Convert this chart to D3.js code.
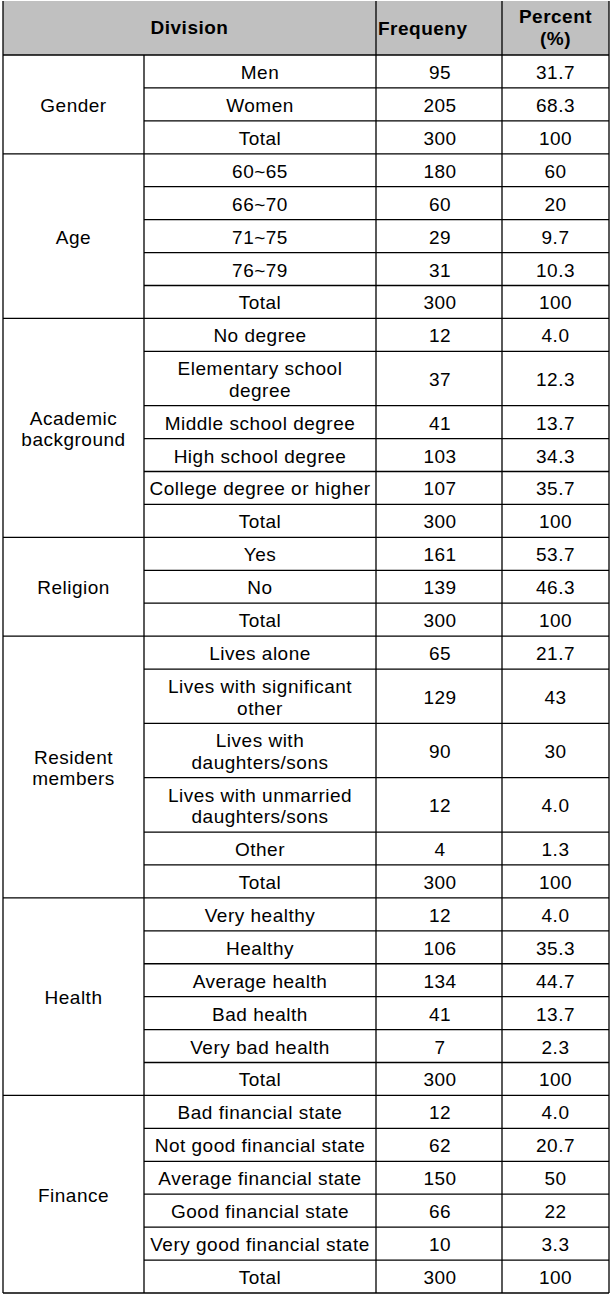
<!DOCTYPE html>
<html>
<head>
<meta charset="utf-8">
<script src="https://cdn.jsdelivr.net/npm/d3@7"></script>
<style>
  body { margin: 0; background: #fff; }
  text { font-family: "Liberation Sans", Arial, sans-serif; font-size: 19px; letter-spacing: 0.5px; fill: #000; }
</style>
</head>
<body>
<div id="table"></div>
<script>
// table content
const groups = ["Gender", "Age", "Academic\nbackground", "Religion", "Resident\nmembers", "Health", "Finance"];
const groupOf = [0, 0, 0, 1, 1, 1, 1, 1, 2, 2, 2, 2, 2, 2, 3, 3, 3, 4, 4, 4, 4, 4, 4, 5, 5, 5, 5, 5, 5, 6, 6, 6, 6, 6, 6];
const categories = [
  "Men", "Women", "Total",
  "60~65", "66~70", "71~75", "76~79", "Total",
  "No degree", "Elementary school\ndegree", "Middle school degree", "High school degree", "College degree or higher", "Total",
  "Yes", "No", "Total",
  "Lives alone", "Lives with significant\nother", "Lives with\ndaughters/sons", "Lives with unmarried\ndaughters/sons", "Other", "Total",
  "Very healthy", "Healthy", "Average health", "Bad health", "Very bad health", "Total",
  "Bad financial state", "Not good financial state", "Average financial state", "Good financial state", "Very good financial state", "Total"
];
const frequency = [
  95, 205, 300,
  180, 60, 29, 31, 300,
  12, 37, 41, 103, 107, 300,
  161, 139, 300,
  65, 129, 90, 12, 4, 300,
  12, 106, 134, 41, 7, 300,
  12, 62, 150, 66, 10, 300
];
const percent = [
  "31.7", "68.3", "100",
  "60", "20", "9.7", "10.3", "100",
  "4.0", "12.3", "13.7", "34.3", "35.7", "100",
  "53.7", "46.3", "100",
  "21.7", "43", "30", "4.0", "1.3", "100",
  "4.0", "35.3", "44.7", "13.7", "2.3", "100",
  "4.0", "20.7", "50", "22", "3.3", "100"
];

const width = 612, height = 1296;
const colEdges = [3, 144, 376, 502, 609];
const headTop = 1, headBottom = 55, tableBottom = 1293;
const lineHeight = 21.7, textOffset = 7.5;

// row heights in units: two-line rows are taller
const rows = categories.map((c, i) => ({
  label: c,
  group: groupOf[i],
  freq: frequency[i],
  pct: percent[i],
  units: c.includes("\n") ? 1.65 : 1
}));
let acc = 0;
rows.forEach(r => { r.u0 = acc; acc += r.units; r.u1 = acc; });

const y = d3.scaleLinear().domain([0, acc]).range([headBottom, tableBottom]);

const groupRows = groups.map((g, gi) => {
  const rs = rows.filter(r => r.group === gi);
  return { label: g, u0: rs[0].u0, u1: rs[rs.length - 1].u1 };
});

const svg = d3.select("#table").append("svg")
  .attr("width", width).attr("height", height);

// header background
svg.append("rect")
  .attr("x", colEdges[0]).attr("y", headTop)
  .attr("width", colEdges[4] - colEdges[0]).attr("height", headBottom - headTop)
  .attr("fill", "#c0c0c0");

function multiline(sel, cx, cy) {
  sel.each(function (d) {
    const lines = d.split("\n");
    const t = d3.select(this).attr("text-anchor", "middle");
    lines.forEach((l, i) => {
      t.append("tspan")
        .attr("x", cx)
        .attr("y", cy + textOffset + (i - (lines.length - 1) / 2) * lineHeight)
        .text(l);
    });
  });
}

// header text
svg.append("text").datum("Division").style("font-weight", "bold")
  .call(multiline, (colEdges[0] + colEdges[2]) / 2, 26);
svg.append("text").style("font-weight", "bold")
  .attr("x", colEdges[2] + 2).attr("y", 35).text("Frequeny");
svg.append("text").datum("Percent\n(%)").style("font-weight", "bold")
  .call(multiline, (colEdges[3] + colEdges[4]) / 2, 26.5);

// group labels
svg.append("g").selectAll("text")
  .data(groupRows).join("text")
  .each(function (d) {
    d3.select(this).datum(d.label)
      .call(multiline, (colEdges[0] + colEdges[1]) / 2, (y(d.u0) + y(d.u1)) / 2);
  });

// row cells
const rowG = svg.append("g").selectAll("g")
  .data(rows).join("g");
rowG.each(function (d) {
  const g = d3.select(this);
  const cy = (y(d.u0) + y(d.u1)) / 2;
  g.append("text").datum(d.label).call(multiline, (colEdges[1] + colEdges[2]) / 2, cy);
  g.append("text").datum(String(d.freq)).call(multiline, (colEdges[2] + colEdges[3]) / 2 + 1, cy);
  g.append("text").datum(d.pct).call(multiline, (colEdges[3] + colEdges[4]) / 2, cy);
});

// grid lines
const lines = svg.append("g").attr("stroke", "#000").attr("stroke-width", 1.3);
// horizontal lines between rows; group boundaries run the full width
lines.selectAll(".row-line")
  .data(rows.filter(r => r.u1 < acc)).join("line")
  .attr("x1", d => groupRows.some(g => g.u1 === d.u1) ? colEdges[0] : colEdges[1])
  .attr("x2", colEdges[4])
  .attr("y1", d => y(d.u1)).attr("y2", d => y(d.u1));
// header bottom and table bottom
[headBottom, tableBottom].forEach(v => {
  lines.append("line").attr("x1", colEdges[0]).attr("x2", colEdges[4]).attr("y1", v).attr("y2", v);
});
// vertical lines
colEdges.forEach((x, i) => {
  lines.append("line")
    .attr("x1", x).attr("x2", x)
    .attr("y1", i === 1 ? headBottom : headTop).attr("y2", tableBottom);
});
</script>
</body>
</html>
